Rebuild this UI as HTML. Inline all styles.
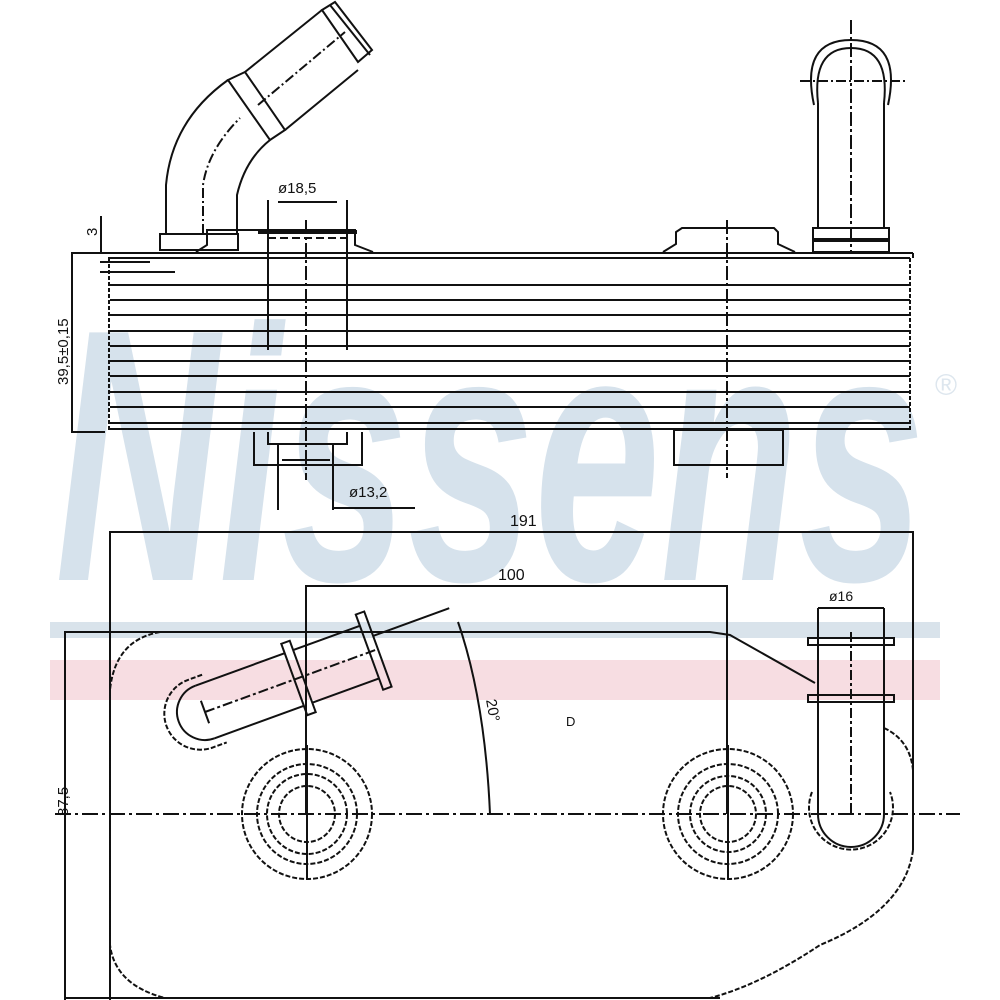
<!DOCTYPE html>
<html><head><meta charset="utf-8"><style>
html,body{margin:0;padding:0;background:#fff;}
svg{display:block;}
text{font-family:"Liberation Sans",sans-serif;fill:#111;}
</style></head><body>
<svg width="1000" height="1000" viewBox="0 0 1000 1000" xmlns="http://www.w3.org/2000/svg">
<!-- watermark -->
<text x="55" y="580" font-size="360" font-weight="bold" font-style="italic" style="fill:#d6e2ec" textLength="870" lengthAdjust="spacingAndGlyphs">Nissens</text>
<text x="935" y="395" font-size="30" style="fill:#dde6ee">®</text>
<rect x="50" y="622" width="890" height="16" fill="#d9e3eb"/>
<rect x="50" y="660" width="890" height="40" fill="#f7dde2"/>

<g fill="none" stroke="#111" stroke-width="2">
<!-- TOP VIEW stack -->
<line x1="105" y1="253" x2="913" y2="253"/>
<line x1="913" y1="253" x2="913" y2="258"/>
<line x1="108" y1="258" x2="910" y2="258"/>
<line x1="110" y1="285" x2="910" y2="285"/>
<line x1="110" y1="300" x2="910" y2="300"/>
<line x1="110" y1="315" x2="910" y2="315"/>
<line x1="110" y1="331" x2="910" y2="331"/>
<line x1="110" y1="346" x2="910" y2="346"/>
<line x1="110" y1="361" x2="910" y2="361"/>
<line x1="110" y1="376" x2="910" y2="376"/>
<line x1="110" y1="392" x2="910" y2="392"/>
<line x1="110" y1="407" x2="910" y2="407"/>
<line x1="110" y1="423" x2="910" y2="423"/>
<line x1="110" y1="429" x2="910" y2="429"/>
<line x1="109" y1="258" x2="109" y2="431" stroke-dasharray="4 2"/>
<line x1="910" y1="258" x2="910" y2="431" stroke-dasharray="4 2"/>
<line x1="100" y1="262" x2="150" y2="262"/>
<line x1="100" y1="272" x2="175" y2="272"/>
<!-- dims left -->
<polyline points="105,253 72,253 72,432 105,432"/>
<line x1="101" y1="216" x2="101" y2="253"/>
<!-- left boss -->
<polyline points="196,252 207,245 207,230 355,230 355,245 373,252"/>
<line x1="258" y1="232" x2="357" y2="232" stroke-width="4"/>
<line x1="268" y1="200" x2="268" y2="350"/>
<line x1="347" y1="200" x2="347" y2="350"/>
<line x1="278" y1="202" x2="337" y2="202"/>
<line x1="306" y1="220" x2="306" y2="480" stroke-dasharray="14 3 3 3"/>
<line x1="268" y1="238" x2="347" y2="238" stroke-dasharray="8 4"/>
<!-- bottom under left -->
<polyline points="254,432 254,465 362,465 362,432"/>
<polyline points="268,432 268,444 347,444 347,432"/>
<line x1="278" y1="444" x2="278" y2="510"/>
<line x1="333" y1="444" x2="333" y2="510"/>
<line x1="282" y1="460" x2="330" y2="460"/>
<polyline points="333,508 415,508"/>
<!-- left pipe -->
<rect x="160" y="234" width="78" height="16"/>
<path d="M166,234 L166,185 Q172,120 228,80"/>
<path d="M237,234 L237,195 Q245,160 270,140"/>
<path d="M203,234 L203,185 Q208,150 240,118" stroke-dasharray="10 3 2 3"/>
<path d="M228,80 L245,72 L285,130 L270,140 Z"/>
<line x1="245" y1="72" x2="322" y2="10"/>
<line x1="285" y1="130" x2="358" y2="70"/>
<line x1="258" y1="105" x2="345" y2="32" stroke-dasharray="10 3 2 3"/>
<path d="M322,10 L335,2 L372,50 L358,62 Z"/>
<line x1="330" y1="5" x2="370" y2="55"/>
<!-- right boss -->
<polyline points="663,252 676,244 676,232 682,228 774,228 778,232 778,244 795,252"/>
<line x1="727" y1="220" x2="727" y2="478" stroke-dasharray="14 3 3 3"/>
<rect x="674" y="430" width="109" height="35"/>
<!-- right pipe -->
<rect x="813" y="228" width="76" height="24"/>
<line x1="813" y1="240" x2="889" y2="240" stroke-width="4"/>
<line x1="818" y1="228" x2="818" y2="103"/>
<line x1="884" y1="228" x2="884" y2="103"/>
<path d="M818,103 Q812,48 851,48 Q890,48 884,103"/>
<path d="M814,105 Q800,40 851,40 Q902,40 888,105"/>
<line x1="800" y1="81" x2="907" y2="81" stroke-dasharray="10 3 2 3"/>
<line x1="851" y1="20" x2="851" y2="252" stroke-dasharray="14 3 3 3"/>

<!-- BOTTOM VIEW -->
<polyline points="110,1000 110,532 913,532 913,850"/>
<polyline points="306,814 306,586 727,586 727,814"/>
<polyline points="65,1000 65,632 710,632 730,635 815,683"/>
<line x1="65" y1="998" x2="720" y2="998"/>
<path d="M160,632 Q115,640 110,690 L110,945 Q115,985 165,998" stroke-dasharray="5 2"/>
<path d="M913,850 Q905,910 820,945 Q760,985 710,998" stroke-dasharray="5 2"/>
<path d="M884,728 Q910,740 913,770" stroke-dasharray="5 2"/>
<line x1="55" y1="814" x2="960" y2="814" stroke-dasharray="16 4 3 4"/>
<!-- ports -->
<g stroke-dasharray="5 2">
<circle cx="307" cy="814" r="65"/><circle cx="307" cy="814" r="50"/><circle cx="307" cy="814" r="40"/><circle cx="307" cy="814" r="28"/>
<circle cx="728" cy="814" r="65"/><circle cx="728" cy="814" r="50"/><circle cx="728" cy="814" r="38"/><circle cx="728" cy="814" r="28"/>
</g>
<line x1="307" y1="745" x2="307" y2="880"/>
<line x1="728" y1="745" x2="728" y2="880"/>
<!-- right pipe bottom view -->
<line x1="818" y1="608" x2="818" y2="814"/>
<line x1="884" y1="608" x2="884" y2="814"/>
<line x1="818" y1="608" x2="884" y2="608"/>
<rect x="808" y="638" width="86" height="7"/>
<rect x="808" y="695" width="86" height="7"/>
<path d="M818,814 A33,33 0 0 0 884,814"/>
<path d="M812,792 A42,42 0 1 0 890,792" stroke-dasharray="5 2"/>
<line x1="851" y1="632" x2="851" y2="814" stroke-dasharray="10 3 3 3"/>
<!-- angled pipe -->
<g transform="rotate(-20 205 712)">
<line x1="205" y1="684" x2="300" y2="684"/>
<line x1="205" y1="740" x2="300" y2="740"/>
<path d="M205,684 A28,28 0 0 0 205,740"/>
<path d="M215,676 L200,676 A36,36 0 0 0 200,748 L215,748" stroke-dasharray="5 2"/>
<rect x="300" y="674" width="9" height="76"/>
<line x1="309" y1="684" x2="380" y2="684"/>
<line x1="309" y1="740" x2="380" y2="740"/>
<rect x="380" y="672" width="9" height="80"/>
<line x1="389" y1="698" x2="470" y2="698"/>
<line x1="205" y1="712" x2="388" y2="712" stroke-dasharray="10 3 3 3"/>
<line x1="205" y1="700" x2="205" y2="724"/>
</g>
<path d="M458,622 Q485,700 490,814"/>
</g>
<!-- texts -->
<text x="278" y="193" font-size="15">ø18,5</text>
<text x="349" y="497" font-size="15">ø13,2</text>
<text transform="translate(97,236) rotate(-90)" font-size="15">3</text>
<text transform="translate(68,385) rotate(-90)" font-size="15">39,5±0,15</text>
<text x="510" y="526" font-size="16">191</text>
<text x="498" y="580" font-size="16">100</text>
<text x="829" y="601" font-size="14">ø16</text>
<text transform="translate(68,816) rotate(-90)" font-size="15">87,5</text>
<text transform="translate(486,700) rotate(80)" font-size="15">20°</text>
<text x="566" y="726" font-size="13">D</text>
</svg>
</body></html>
